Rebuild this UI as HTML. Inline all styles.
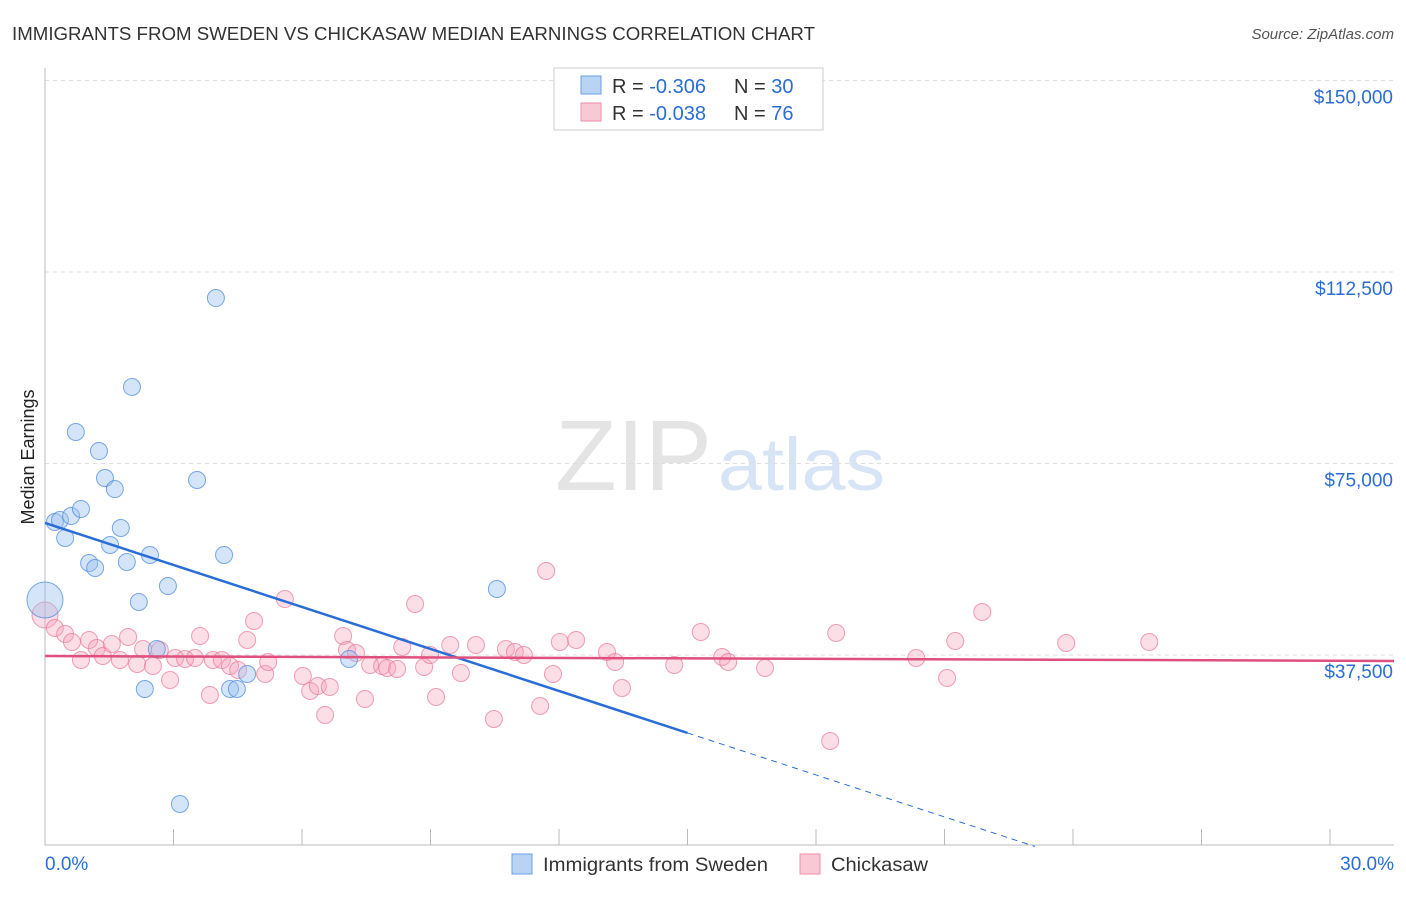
<!DOCTYPE html>
<html><head><meta charset="utf-8">
<style>
body{margin:0;background:#fff;font-family:"Liberation Sans",sans-serif;}
svg text{font-family:"Liberation Sans",sans-serif;}
</style></head>
<body>
<svg id="chart" width="1406" height="892" xmlns="http://www.w3.org/2000/svg">
<text x="12" y="40" font-size="18" fill="#333" textLength="803" lengthAdjust="spacingAndGlyphs">IMMIGRANTS FROM SWEDEN VS CHICKASAW MEDIAN EARNINGS CORRELATION CHART</text>
<text x="1394" y="39" font-size="15" fill="#555" text-anchor="end" font-style="italic">Source: ZipAtlas.com</text>
<text x="34" y="457" font-size="18" fill="#222" text-anchor="middle" transform="rotate(-90 34 457)">Median Earnings</text>
<g>
<text x="555" y="490" font-size="100" fill="#e4e4e4" textLength="157" lengthAdjust="spacingAndGlyphs" font-family="Liberation Serif,serif">ZIP</text>
<text x="718" y="490" font-size="74" fill="#d6e4f5" textLength="167" lengthAdjust="spacingAndGlyphs">atlas</text>
</g>
<g id="grid"></g>
<g id="axes"></g>
<g id="pts"></g>
<g id="trends"></g>
<g>
<rect x="554" y="68" width="269" height="62" fill="#fff" stroke="#ccc"/>
<rect x="581" y="76" width="20" height="18" fill="#b9d4f3" stroke="#6a9fe0"/>
<rect x="581" y="103" width="20" height="18" fill="#f8c8d5" stroke="#eb90aa"/>
<text x="612" y="93" font-size="20" fill="#333">R = <tspan fill="#2a6dd6">-0.306</tspan><tspan x="734">N = </tspan><tspan fill="#2a6dd6">30</tspan></text>
<text x="612" y="120" font-size="20" fill="#333">R = <tspan fill="#2a6dd6">-0.038</tspan><tspan x="734">N = </tspan><tspan fill="#2a6dd6">76</tspan></text>
</g>
<g>
<rect x="512" y="854" width="20" height="20" fill="#b9d4f3" stroke="#6a9fe0"/>
<text x="543" y="871" font-size="19" fill="#333" textLength="225" lengthAdjust="spacingAndGlyphs">Immigrants from Sweden</text>
<rect x="800" y="854" width="20" height="20" fill="#f8c8d5" stroke="#eb90aa"/>
<text x="831" y="871" font-size="19" fill="#333" textLength="97" lengthAdjust="spacingAndGlyphs">Chickasaw</text>
</g>
</svg>
<script>
const yTicks=[37500,75000,112500,150000];
const yTickLabels=["$37,500","$75,000","$112,500","$150,000"];
const xTickVals=[0,3,6,9,12,15,18,21,24,27,30];
const blueX=[0,0.23,0.35,0.47,0.61,0.84,0.72,1.03,1.17,1.26,1.40,1.63,1.52,1.77,1.91,2.03,2.19,2.45,2.61,2.87,2.33,3.15,3.55,3.99,4.18,4.32,4.48,4.72,7.10,10.55];
const blueY=[48270,63540,63930,60410,64720,66090,81170,55510,54540,77440,72160,70000,59040,62370,55710,89980,47880,57080,38670,51010,30840,8320,71770,107400,57080,30840,30840,33780,36720,50420];
const pinkX=[0,0.23,0.47,0.63,0.84,1.03,1.21,1.35,1.56,1.75,1.94,2.15,2.29,2.52,2.68,2.92,3.04,3.27,3.50,3.62,3.85,3.92,4.13,4.32,4.51,4.72,4.88,5.14,5.21,5.60,6.02,6.19,6.37,6.54,6.65,6.96,7.05,7.26,7.47,7.59,7.87,7.99,8.22,8.34,8.64,8.85,8.99,9.13,9.46,9.71,10.06,10.48,10.76,10.97,11.18,11.56,11.70,11.86,12.02,12.40,13.12,13.31,13.47,14.69,15.31,15.81,15.95,16.81,18.33,18.47,20.34,21.06,21.25,21.88,23.84,25.78];
const pinkY=[45330,42790,41610,40050,36520,40440,38870,37300,39650,36520,41020,35740,38670,35350,38480,32610,36910,36720,36910,41220,29670,36520,36520,35350,34560,40440,44160,33780,36130,48460,33390,30450,31430,25750,31230,41220,38480,37890,28880,35540,35350,34950,34760,39070,47490,35150,37500,29280,39460,33980,39460,24970,38670,38090,37500,27510,53950,33780,40050,40440,38090,36130,31040,35540,42000,37110,36130,34950,20660,41810,36910,33000,40240,45920,39850,40050];
const blueTrend=[63350,-2741];
const pinkTrend=[37300,-32.3];
const NS="http://www.w3.org/2000/svg";
const X=p=>45+p/30*1285;
const Y=v=>655-(v-37500)/37500*191.5;
function mk(t,a,parent){const e=document.createElementNS(NS,t);for(const k in a)e.setAttribute(k,a[k]);document.getElementById(parent).appendChild(e);return e;}
yTicks.forEach((v,i)=>{
 const l=mk('line',{x1:45,x2:1394,y1:Y(v),y2:Y(v),stroke:'#ddd','stroke-dasharray':'4,4'},'grid');
 
 
 const t=mk('text',{x:1393,y:Y(v)+23,'font-size':19,fill:'#2a6dd6','text-anchor':'end'},'axes');
 t.textContent=yTickLabels[i];
 
 
});
const ax=mk('line',{x1:45,x2:1394,y1:845,y2:845,stroke:'#bbb'},'axes');


const ay=mk('line',{x1:45,x2:45,y1:68,y2:845,stroke:'#bbb'},'axes');


xTickVals.forEach(p=>{
 const l=mk('line',{x1:X(p),x2:X(p),y1:829,y2:845,stroke:'#bbb'},'axes');
 
 
});
const xl=mk('text',{x:45,y:870,'font-size':19,fill:'#2a6dd6'},'axes');xl.textContent='0.0%';


const xr=mk('text',{x:1394,y:870,'font-size':19,fill:'#2a6dd6','text-anchor':'end'},'axes');xr.textContent='30.0%';


pinkX.forEach((p,i)=>{
 const c=mk('circle',{cx:X(p),cy:Y(pinkY[i]),r:i==0?13:8.5,fill:'rgba(245,160,185,0.35)',stroke:'rgba(232,120,155,0.7)','stroke-width':1},'pts');
 
 
});
blueX.forEach((p,i)=>{
 const c=mk('circle',{cx:X(p),cy:Y(blueY[i]),r:i==0?18:8.5,fill:'rgba(150,190,240,0.4)',stroke:'rgba(80,140,220,0.75)','stroke-width':1},'pts');
 
 
});
const bx0=0,bx1=15,bx2=-blueTrend[0]/blueTrend[1];
const bt=v=>blueTrend[0]+blueTrend[1]*v;
const b1=mk('line',{x1:X(bx0),y1:Y(bt(bx0)),x2:X(bx1),y2:Y(bt(bx1)),stroke:'#2a6dd6','stroke-width':2.5},'trends');


const b2=mk('line',{x1:X(bx1),y1:Y(bt(bx1)),x2:X(bx2),y2:Y(bt(bx2)),stroke:'#2a6dd6','stroke-width':1,'stroke-dasharray':'6,5'},'trends');


const pt=v=>pinkTrend[0]+pinkTrend[1]*v;
const p1=mk('line',{x1:X(0),y1:Y(pt(0)),x2:X(30)+64,y2:Y(pt(30)),stroke:'#e0507e','stroke-width':2.5},'trends');


</script>
</body></html>
